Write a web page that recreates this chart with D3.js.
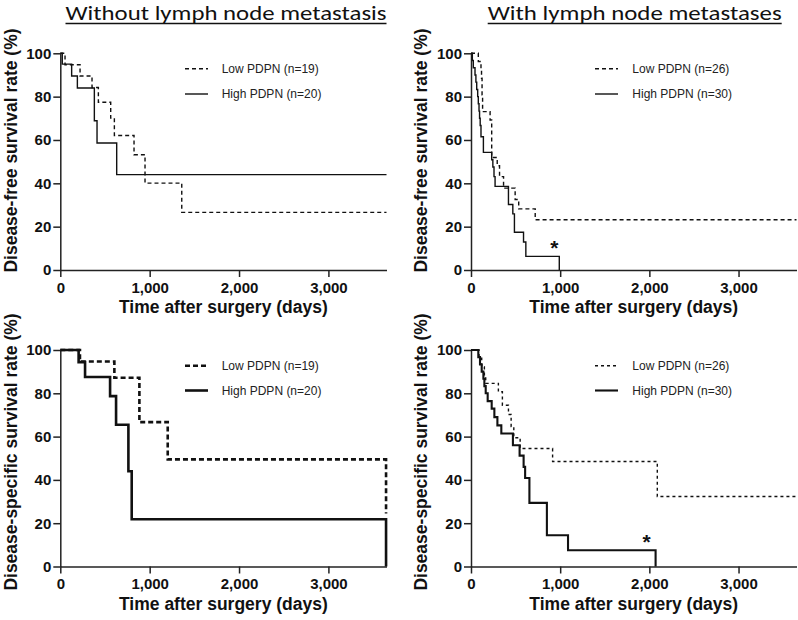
<!DOCTYPE html>
<html><head><meta charset="utf-8">
<script src="https://cdn.jsdelivr.net/npm/d3@7"></script>
<style>body{margin:0;background:#fff}svg{display:block}</style>
</head><body><svg id="c" width="798" height="620"></svg>
<script>
// ---------- data ----------
const xTicks = [0, 1000, 2000, 3000];
const yTicks = [0, 20, 40, 60, 80, 100];
const titles = ["Without lymph node metastasis", "With lymph node metastases"];
const yLabels = ["Disease-free survival rate (%)", "Disease-specific survival rate (%)"];
const xLabel = "Time after surgery (days)";
const lowLegend = ["Low PDPN (n=19)", "Low PDPN (n=26)"];
const highLegend = ["High PDPN (n=20)", "High PDPN (n=30)"];

// Disease-free survival, without lymph node metastasis
const dfsNoLnLowDays  = [0, 53, 221, 355, 426, 564, 605, 825, 948, 1359, 3650];
const dfsNoLnLowRate  = [100, 94.7, 89.5, 84.2, 77.4, 70.1, 62.1, 53.2, 40.1, 26.6, 26.6];
const dfsNoLnHighDays = [0, 22, 127, 191, 381, 411, 631, 3650];
const dfsNoLnHighRate = [100, 95, 89.5, 84, 68.9, 58.6, 44, 44];

// Disease-free survival, with lymph node metastases
const dfsLnLowDays  = [0, 82, 112, 118, 124, 130, 214, 232, 294, 320, 365, 495, 535, 720, 3650];
const dfsLnLowRate  = [100, 96.2, 92.3, 88.5, 80.8, 73.1, 69.2, 51.9, 48.1, 43.1, 37.8, 32.5, 28.2, 23.2, 23.2];
const dfsLnHighDays = [0, 15, 26, 45, 55, 64, 75, 82, 90, 96, 103, 112, 139, 232, 245, 258, 270, 420, 469, 487, 589, 615, 990];
const dfsLnHighRate = [100, 96.7, 93.3, 90, 86.7, 83.3, 80, 76.7, 73.3, 70, 66.7, 61.5, 54.3, 50.9, 47.5, 43.1, 38.6, 30.2, 25.9, 17.4, 12.9, 6.3, 0];

// Disease-specific survival, without lymph node metastasis
const dssNoLnLowDays  = [0, 220, 605, 885, 1202, 3645];
const dssNoLnLowRate  = [100, 94.7, 87.2, 66.7, 49.5, 24.5];
const dssNoLnHighDays = [0, 205, 277, 557, 624, 762, 799, 3645];
const dssNoLnHighRate = [100, 94.4, 87.5, 78.7, 65.5, 44, 21.8, 0];

// Disease-specific survival, with lymph node metastases
const dssLnLowDays  = [0, 90, 120, 150, 165, 307, 352, 420, 450, 480, 551, 915, 2089, 3650];
const dssLnLowRate  = [100, 96.2, 92.3, 88.5, 84.6, 80.7, 74.5, 70.2, 64.6, 59.5, 54.5, 48.5, 32.3, 32.3];
const dssLnHighDays = [0, 82, 101, 120, 139, 150, 165, 187, 232, 262, 296, 340, 470, 545, 590, 607, 655, 851, 1088, 2070];
const dssLnHighRate = [100, 96.7, 93.3, 90, 86.7, 83.3, 80, 76.4, 72.9, 69, 65.2, 61.4, 56, 51.2, 46, 40.9, 29.4, 14.4, 7.5, 0];

const xDomain = [0, 3650];

// ---------- layout ----------
const FONT = "'Liberation Sans', Arial, Helvetica, sans-serif";
const panels = [
  {low:[dfsNoLnLowDays, dfsNoLnLowRate], high:[dfsNoLnHighDays, dfsNoLnHighRate],
   xr:[60.3, 386.5], yr:[270, 53.3], col:0, row:0, lowW:1.4, highW:1.4, dash:"4,3",
   legY:[68.7, 94], legX:[185, 208, 221.7], yLabY:150.5, yLabX:16.5, xLabY:313, star:false},
  {low:[dfsLnLowDays, dfsLnLowRate], high:[dfsLnHighDays, dfsLnHighRate],
   xr:[471, 796.5], yr:[270, 53.3], col:1, row:0, lowW:1.4, highW:1.4, dash:"4,3",
   legY:[68.7, 94], legX:[595, 618, 632.3], yLabY:150.5, yLabX:426.5, xLabY:313, star:[935, 12.5]},
  {low:[dssNoLnLowDays, dssNoLnLowRate], high:[dssNoLnHighDays, dssNoLnHighRate],
   xr:[60.3, 386.5], yr:[566.5, 350], col:0, row:1, lowW:2.6, highW:2.6, dash:"5,3",
   legY:[365.7, 390.5], legX:[185, 208, 221.7], yLabY:452, yLabX:16.5, xLabY:610, star:false},
  {low:[dssLnLowDays, dssLnLowRate], high:[dssLnHighDays, dssLnHighRate],
   xr:[471, 796.5], yr:[566.5, 350], col:1, row:1, lowW:1.4, highW:2.1, dash:"3,3",
   legY:[365.7, 390.5], legX:[595, 618, 632.3], yLabY:452, yLabX:426.5, xLabY:610, star:[1970, 13.8]}
];

const svg = d3.select("#c");
svg.append("rect").attr("width", 798).attr("height", 620).attr("fill", "#fff");

// titles
const titleCfg = [{x:226, w:321}, {x:634.7, w:294}];
titles.forEach((t, i) => {
  const c = titleCfg[i];
  svg.append("text").attr("x", c.x).attr("y", 19.8).attr("text-anchor", "middle")
    .attr("font-family", "Carlito, Lato, 'Open Sans', sans-serif").attr("font-size", 20)
    .attr("fill", "#111").attr("textLength", c.w).attr("lengthAdjust", "spacingAndGlyphs").text(t);
  svg.append("line").attr("x1", c.x - c.w/2).attr("x2", c.x + c.w/2).attr("y1", 23.5).attr("y2", 23.5)
    .attr("stroke", "#111").attr("stroke-width", 1.5);
});

panels.forEach(p => {
  const x = d3.scaleLinear().domain(xDomain).range(p.xr);
  const y = d3.scaleLinear().domain([0, 100]).range(p.yr);
  const g = svg.append("g");

  const yAx = g.append("g").attr("transform", `translate(${p.xr[0]},0)`)
    .call(d3.axisLeft(y).tickValues(yTicks).tickSize(7).tickPadding(2).tickSizeOuter(0));
  const xAx = g.append("g").attr("transform", `translate(0,${p.yr[0]})`)
    .call(d3.axisBottom(x).tickValues(xTicks).tickFormat(d3.format(",")).tickSize(7).tickPadding(5).tickSizeOuter(0));
  [yAx, xAx].forEach(a => {
    a.selectAll("path,line").attr("stroke", "#222").attr("stroke-width", 1.5);
    a.selectAll("text").attr("font-family", FONT).attr("font-size", 15)
      .attr("font-weight", "bold").attr("fill", "#111");
  });

  const line = d3.line().x(d => x(d[0])).y(d => y(d[1])).curve(d3.curveStepAfter);
  const lowPts = d3.zip(p.low[0], p.low[1]);
  const highPts = d3.zip(p.high[0], p.high[1]);
  g.append("path").datum(lowPts).attr("d", line).attr("fill", "none")
    .attr("stroke", "#111").attr("stroke-width", p.lowW).attr("stroke-dasharray", p.dash);
  g.append("path").datum(highPts).attr("d", line).attr("fill", "none")
    .attr("stroke", "#111").attr("stroke-width", p.highW);

  // legend
  const leg = [[lowLegend[p.col], p.lowW, p.dash], [highLegend[p.col], p.highW, null]];
  leg.forEach((l, i) => {
    const ln = g.append("line").attr("x1", p.legX[0]).attr("x2", p.legX[1])
      .attr("y1", p.legY[i]).attr("y2", p.legY[i]).attr("stroke", "#111").attr("stroke-width", l[1]);
    if (l[2]) ln.attr("stroke-dasharray", l[2]);
    g.append("text").attr("x", p.legX[2]).attr("y", p.legY[i] + 4.3)
      .attr("font-family", FONT).attr("font-size", 12).attr("fill", "#222").text(l[0]);
  });

  // axis labels
  g.append("text").attr("transform", `translate(${p.yLabX},${p.yLabY}) rotate(-90)`)
    .attr("text-anchor", "middle").attr("font-family", FONT).attr("font-size", 17.5)
    .attr("font-weight", "bold").attr("fill", "#111").text(yLabels[p.row]);
  g.append("text").attr("x", (p.xr[0] + p.xr[1]) / 2).attr("y", p.xLabY)
    .attr("text-anchor", "middle").attr("font-family", FONT).attr("font-size", 17.5)
    .attr("font-weight", "bold").attr("fill", "#111").text(xLabel);

  if (p.star) {
    g.append("text").attr("x", x(p.star[0])).attr("y", y(p.star[1]) + 12)
      .attr("text-anchor", "middle").attr("font-family", FONT).attr("font-size", 21)
      .attr("font-weight", "bold").attr("fill", "#111").text("*");
  }
});
</script></body></html>
